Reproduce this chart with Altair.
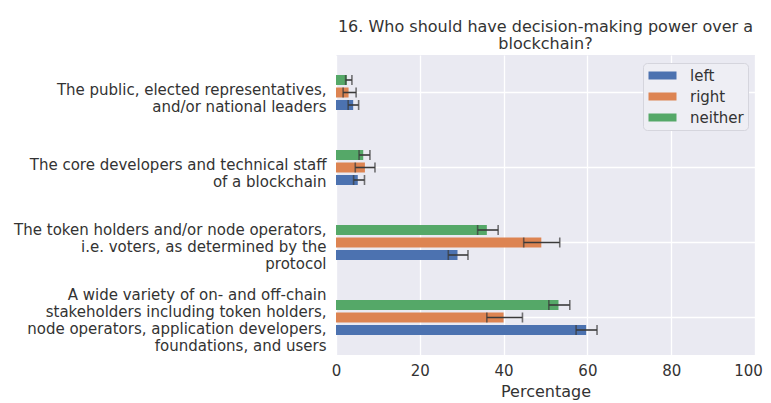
import altair as alt
import pandas as pd

categories = [
    "The public, elected representatives,|and/or national leaders",
    "The core developers and technical staff|of a blockchain",
    "The token holders and/or node operators,|i.e. voters, as determined by the|protocol",
    "A wide variety of on- and off-chain|stakeholders including token holders,|node operators, application developers,|foundations, and users",
]
groups = ["left", "right", "neither"]
colors = ["#4C72B0", "#DD8452", "#55A868"]

left_vals = [4.1, 5.2, 29.0, 59.7]
left_lo = [2.9, 4.2, 26.8, 57.3]
left_hi = [5.4, 6.8, 31.5, 62.3]
right_vals = [3.0, 6.9, 49.0, 40.0]
right_lo = [1.7, 4.6, 44.8, 36.0]
right_hi = [4.8, 9.3, 53.4, 44.5]
neither_vals = [2.6, 6.5, 36.0, 53.1]
neither_lo = [2.3, 5.5, 33.8, 50.8]
neither_hi = [3.8, 8.1, 38.7, 55.8]

series = {
    "left": (left_vals, left_lo, left_hi),
    "right": (right_vals, right_lo, right_hi),
    "neither": (neither_vals, neither_lo, neither_hi),
}
rows = []
for g in groups:
    v, lo, hi = series[g]
    for i, c in enumerate(categories):
        rows.append({"category": c, "group": g, "value": v[i], "lo": lo[i], "hi": hi[i]})
df = pd.DataFrame(rows)

FONT = "DejaVu Sans"
TXT = "#333333"

y_enc = alt.Y(
    "category:N",
    sort=categories,
    scale=alt.Scale(paddingInner=0.5, paddingOuter=0.25),
    axis=alt.Axis(
        title=None,
        labelExpr="split(datum.label, '|')",
        labelFontSize=15,
        labelLineHeight=17,
        labelColor=TXT,
        labelPadding=10,
        labelBaseline="middle",
        labelOffset={
            "expr": "3 + (4 - length(split(datum.label, '|'))) * 1.25"
                    " - (length(split(datum.label, '|')) - 1) * 8.5"
        },
        bandPosition=0.5,
        grid=True,
        labelLimit=400,
    ),
)
yoff = alt.YOffset(
    "group:N",
    sort=["neither", "right", "left"],
    scale=alt.Scale(paddingInner=0.2, paddingOuter=0.1),
)

base = alt.Chart(df)

bars = base.mark_bar().encode(
    x=alt.X(
        "value:Q",
        scale=alt.Scale(domain=[0, 100], nice=False),
        axis=alt.Axis(
            title="Percentage",
            values=[0, 20, 40, 60, 80, 100],
            labelFontSize=15,
            titleFontSize=16,
            titleFontWeight="normal",
            labelColor=TXT,
            titleColor=TXT,
            labelFlush=False,
            labelOffset={"expr": "datum.value == 100 ? -7 : 0"},
            labelPadding=8,
            titlePadding=5,
        ),
    ),
    y=y_enc,
    yOffset=yoff,
    color=alt.Color(
        "group:N",
        scale=alt.Scale(domain=groups, range=colors),
        legend=alt.Legend(
            title=None,
            orient="none",
            legendX=307,
            legendY=8,
            labelFontSize=15,
            labelColor=TXT,
            symbolType="M-1.647,-0.47H1.647V0.47H-1.647Z",
            symbolSize=289,
            symbolStrokeWidth=0,
            symbolOpacity=1,
            symbolOffset=7,
            rowPadding=4,
            labelOffset=19,
            padding=4,
            fillColor="#EEEEF4",
            strokeColor="#D5D5DD",
            cornerRadius=4,
        ),
    ),
)

err = base.mark_rule(color="#3a3a3a", strokeWidth=1.6).encode(
    x="lo:Q", x2="hi:Q", y=alt.Y("category:N", sort=categories), yOffset=yoff
)
cap_lo = base.mark_tick(color="#3a3a3a", thickness=1.6, size=10, orient="vertical").encode(
    x="lo:Q", y=alt.Y("category:N", sort=categories), yOffset=yoff
)
cap_hi = base.mark_tick(color="#3a3a3a", thickness=1.6, size=10, orient="vertical").encode(
    x="hi:Q", y=alt.Y("category:N", sort=categories), yOffset=yoff
)

chart = (
    alt.layer(bars, err, cap_lo, cap_hi)
    .properties(
        width=419,
        height=300,
        padding={"left": 5, "top": 10, "right": 0, "bottom": 5},
        title=alt.Title(
            ["16. Who should have decision-making power over a", "blockchain?"],
            fontSize=16,
            fontWeight="normal",
            color=TXT,
            anchor="middle",
            lineHeight=17.5,
            offset=3,
        ),
    )
    .configure(font=FONT)
    .configure_view(fill="#EAEAF2", stroke=None)
    .configure_axis(
        domain=False,
        ticks=False,
        gridColor="white",
        gridWidth=1.3,
        labelFont=FONT,
        titleFont=FONT,
    )
    .configure_legend(labelFont=FONT)
)

chart.save("out.html", embed_options={"renderer": "svg", "actions": False})
